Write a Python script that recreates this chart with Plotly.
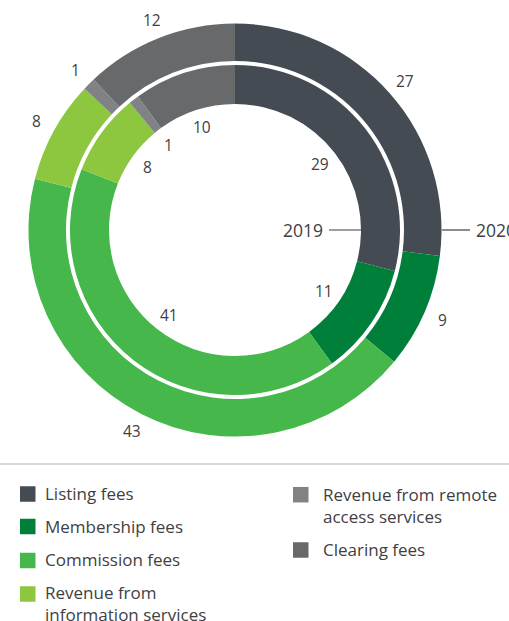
import math
import plotly.graph_objects as go

# ---- data ----
categories = ["Listing fees", "Membership fees", "Commission fees",
              "Revenue from information services",
              "Revenue from remote access services", "Clearing fees"]
legend_labels = ["Listing fees", "Membership fees", "Commission fees",
                 "Revenue from<br>information services",
                 "Revenue from remote<br>access services", "Clearing fees"]
values_2020 = [27, 9, 43, 8, 1, 12]
values_2019 = [29, 11, 41, 8, 1, 10]
colors = ["#454b53", "#007f3b", "#45b74b", "#8dc63f", "#818285", "#68696b"]
year_labels = ["2019", "2020"]

W, H = 509, 621
CX, CY = 235, 230          # centre in pixels (from top)
R_OUT, R_OUT_HOLE = 206.5, 169
R_IN, R_IN_HOLE = 165, 126
TXT = "#3f4043"
FONT = "Open Sans"


def dom(r):
    return dict(x=[(CX - r) / W, (CX + r) / W],
                y=[(H - CY - r) / H, (H - CY + r) / H])


def px(x):
    return x / W


def py(y):
    return 1 - y / H


fig = go.Figure()
fig.add_trace(go.Pie(values=values_2020, labels=categories, domain=dom(R_OUT),
                     hole=R_OUT_HOLE / R_OUT, sort=False, direction="clockwise",
                     rotation=0, marker=dict(colors=colors, line=dict(width=0)),
                     textinfo="none", hoverinfo="label+value", showlegend=False))
fig.add_trace(go.Pie(values=values_2019, labels=categories, domain=dom(R_IN),
                     hole=R_IN_HOLE / R_IN, sort=False, direction="clockwise",
                     rotation=0, marker=dict(colors=colors, line=dict(width=0)),
                     textinfo="none", hoverinfo="label+value", showlegend=False))

annotations = []
shapes = []


def add_value_labels(vals, r):
    total = sum(vals)
    cum = 0
    for v in vals:
        mid = (cum + v / 2) / total * 2 * math.pi
        cum += v
        x = CX + r * math.sin(mid)
        y = CY - r * math.cos(mid)
        annotations.append(dict(x=px(x), y=py(y), xref="paper", yref="paper",
                                text=str(v), showarrow=False,
                                font=dict(family=FONT, size=15.5, color=TXT),
                                xanchor="center", yanchor="middle"))


add_value_labels(values_2020, 226)
add_value_labels(values_2019, 108)

# year markers
annotations.append(dict(x=px(325), y=py(230), xref="paper", yref="paper",
                        text=year_labels[0], showarrow=False, xanchor="right",
                        yanchor="middle", font=dict(family=FONT, size=17.5, color=TXT)))
annotations.append(dict(x=px(474), y=py(230), xref="paper", yref="paper",
                        text=year_labels[1], showarrow=False, xanchor="left",
                        yanchor="middle", font=dict(family=FONT, size=17.5, color=TXT)))
shapes.append(dict(type="line", xref="paper", yref="paper", x0=px(329), x1=px(362),
                   y0=py(230), y1=py(230), line=dict(color=TXT, width=1.2)))
shapes.append(dict(type="line", xref="paper", yref="paper", x0=px(442), x1=px(470),
                   y0=py(230), y1=py(230), line=dict(color=TXT, width=1.2)))

# separator line
shapes.append(dict(type="line", xref="paper", yref="paper", x0=0, x1=1,
                   y0=py(464), y1=py(464), line=dict(color="#c8c8c8", width=1.5)))

# legend (custom, two columns): (square x, square centre y, text x, first baseline)
legend_pos = [(20, 494, 43.2, 499.3), (20, 526.5, 43.2, 531.7),
              (20, 560.5, 43.2, 565), (20, 594, 43.2, 598),
              (293, 494.7, 320.8, 500), (293, 550, 320.8, 555)]
for (sx, sy, tx, base), lab, col in zip(legend_pos, legend_labels, colors):
    shapes.append(dict(type="rect", xref="paper", yref="paper",
                       x0=px(sx), x1=px(sx + 15.5), y0=py(sy - 7.75), y1=py(sy + 7.75),
                       fillcolor=col, line=dict(width=0)))
    annotations.append(dict(x=px(tx), y=py(base - 19), xref="paper", yref="paper",
                            text=lab, showarrow=False, xanchor="left", yanchor="top",
                            align="left",
                            font=dict(family=FONT, size=17, color=TXT)))

fig.update_layout(width=W, height=H, margin=dict(l=0, r=0, t=0, b=0),
                  paper_bgcolor="white", plot_bgcolor="white",
                  annotations=annotations, shapes=shapes, showlegend=False)
fig.write_html("out.html", config={"displayModeBar": False},
               post_script="document.body.style.margin='0';")
